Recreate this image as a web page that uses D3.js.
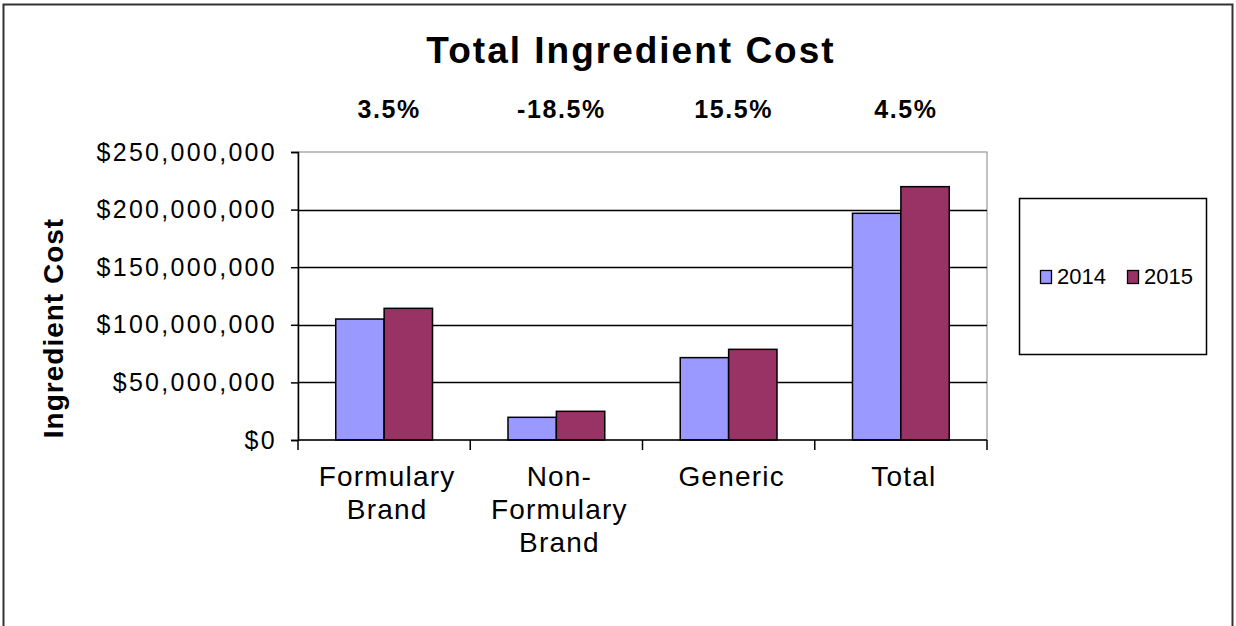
<!DOCTYPE html>
<html>
<head>
<meta charset="utf-8">
<script src="https://cdn.jsdelivr.net/npm/d3@7"></script>
<style>
  html, body { margin: 0; padding: 0; background: #fff; }
  svg { display: block; font-family: "Liberation Sans", Arial, sans-serif; }
</style>
</head>
<body>
<svg id="chart" width="1236" height="626"></svg>
<script>
const categories = [["Formulary", "Brand"], ["Non-", "Formulary", "Brand"], ["Generic"], ["Total"]];
const categoryKeys = ["Formulary Brand", "Non-Formulary Brand", "Generic", "Total"];
const seriesNames = ["2014", "2015"];
const values2014 = [105000000, 19700000, 71500000, 196800000];
const values2015 = [114300000, 24900000, 78700000, 219900000];
const changeLabels = ["3.5%", "-18.5%", "15.5%", "4.5%"];
const yTicks = [0, 50000000, 100000000, 150000000, 200000000, 250000000];
const colors = ["#9999FF", "#993366"];

const svg = d3.select("#chart");
const plot = { left: 298, right: 987, top: 152, bottom: 440 };

// outer border
svg.append("rect").attr("x", 3.5).attr("y", 4.5).attr("width", 1229).attr("height", 640)
  .attr("fill", "#fff").attr("stroke", "#333").attr("stroke-width", 2);

const x0 = d3.scaleBand().domain(categoryKeys).range([plot.left, plot.right]).paddingInner(0).paddingOuter(0);
const x1 = d3.scaleBand().domain(seriesNames).range([0, x0.bandwidth()]).paddingInner(0).paddingOuter(0.78);
const y = d3.scaleLinear().domain([0, 250000000]).range([plot.bottom, plot.top]);

// plot area border (gray)
svg.append("rect").attr("x", plot.left).attr("y", plot.top)
  .attr("width", plot.right - plot.left).attr("height", plot.bottom - plot.top)
  .attr("fill", "none").attr("stroke", "#999").attr("stroke-width", 1.2);

// gridlines
svg.append("g").selectAll("line").data(yTicks.filter(d => d > 0 && d < 250000000)).join("line")
  .attr("x1", plot.left).attr("x2", plot.right)
  .attr("y1", d => Math.round(y(d)) + 0.5).attr("y2", d => Math.round(y(d)) + 0.5)
  .attr("stroke", "#000").attr("stroke-width", 1.3);

// bars
const data = categoryKeys.map((k, i) => ({ key: k, vals: [values2014[i], values2015[i]] }));
const groups = svg.append("g").selectAll("g").data(data).join("g")
  .attr("transform", d => `translate(${x0(d.key)},0)`);
groups.selectAll("rect").data(d => d.vals.map((v, j) => ({ v, s: seriesNames[j], j }))).join("rect")
  .attr("x", d => x1(d.s)).attr("width", x1.bandwidth())
  .attr("y", d => y(d.v)).attr("height", d => y(0) - y(d.v))
  .attr("fill", d => colors[d.j]).attr("stroke", "#000").attr("stroke-width", 1.5);

// y axis
const yAxis = d3.axisLeft(y).tickValues(yTicks).tickSize(7).tickPadding(14)
  .tickFormat(d => "$" + d3.format(",")(d));
const yg = svg.append("g").attr("transform", `translate(${plot.left},0)`).call(yAxis);
yg.select(".domain").attr("stroke", "#000").attr("stroke-width", 1.5);
yg.selectAll(".tick line").attr("stroke", "#000").attr("stroke-width", 1.5);
yg.selectAll(".tick text").attr("font-size", 25).attr("fill", "#000")
  .attr("letter-spacing", 2.3)
  .attr("font-family", "'Liberation Sans', Arial, sans-serif");

// x axis
const xAxisG = svg.append("g").attr("transform", `translate(0,${plot.bottom})`);
xAxisG.append("line").attr("x1", plot.left).attr("x2", plot.right).attr("y1", 0).attr("y2", 0)
  .attr("stroke", "#000").attr("stroke-width", 1.5);
const boundaries = categoryKeys.map(k => x0(k)).concat([plot.right]);
xAxisG.selectAll("line.tk").data(boundaries).join("line").attr("class", "tk")
  .attr("x1", d => d).attr("x2", d => d).attr("y1", 0).attr("y2", 10)
  .attr("stroke", "#000").attr("stroke-width", 1.5);
const xl = xAxisG.selectAll("text.cat").data(categories).join("text").attr("class", "cat")
  .attr("x", (d, i) => x0(categoryKeys[i]) + x0.bandwidth() / 2 + 3)
  .attr("text-anchor", "middle").attr("font-size", 28).attr("letter-spacing", 1.2).attr("fill", "#000");
xl.selectAll("tspan").data(d => d).join("tspan")
  .attr("x", function () { return this.parentNode.getAttribute("x"); })
  .attr("y", (d, i) => 46 + i * 33).text(d => d);

// percent labels
svg.append("g").selectAll("text").data(changeLabels).join("text")
  .attr("x", (d, i) => x0(categoryKeys[i]) + x0.bandwidth() / 2 + 5)
  .attr("y", 118).attr("text-anchor", "middle")
  .attr("font-size", 25).attr("font-weight", "bold").attr("letter-spacing", 1.6)
  .attr("fill", "#000").text(d => d);

// title
svg.append("text").attr("x", 631).attr("y", 63).attr("text-anchor", "middle")
  .attr("font-size", 37).attr("font-weight", "bold").attr("fill", "#000")
  .attr("letter-spacing", 2).text("Total Ingredient Cost");

// y label
svg.append("text").attr("transform", `translate(63,328) rotate(-90)`)
  .attr("text-anchor", "middle").attr("font-size", 28).attr("font-weight", "bold")
  .attr("letter-spacing", 1).attr("fill", "#000").text("Ingredient Cost");

// legend
const lg = svg.append("g");
lg.append("rect").attr("x", 1019.5).attr("y", 198.5).attr("width", 187).attr("height", 156)
  .attr("fill", "#fff").attr("stroke", "#000").attr("stroke-width", 1.5);
const items = lg.selectAll("g").data(seriesNames).join("g")
  .attr("transform", (d, i) => `translate(${1040 + i * 87},284)`);
items.append("rect").attr("x", 0.5).attr("y", -13.5).attr("width", 11).attr("height", 13)
  .attr("fill", (d, i) => colors[i]).attr("stroke", "#000").attr("stroke-width", 1.3);
items.append("text").attr("x", 17).attr("y", 0).attr("font-size", 22).attr("fill", "#000").text(d => d);
</script>
</body>
</html>
